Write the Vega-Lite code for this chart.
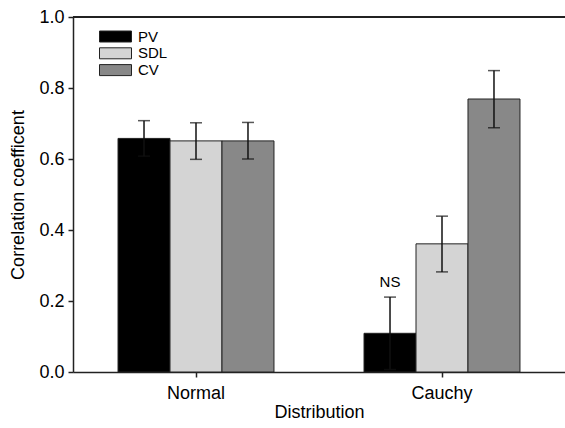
{
  "$schema": "https://vega.github.io/schema/vega-lite/v6.json",
  "width": 492,
  "height": 355,
  "autosize": "none",
  "padding": {"left": 73, "top": 17, "right": 0, "bottom": 56},
  "config": {
    "font": "Liberation Sans",
    "view": {"stroke": null},
    "axis": {
      "domainColor": "#222",
      "domainWidth": 1.5,
      "tickColor": "#222",
      "tickWidth": 1.5,
      "tickSize": 5,
      "labelFontSize": 18,
      "titleFontSize": 18,
      "titleFontWeight": "normal",
      "labelColor": "black",
      "titleColor": "black",
      "grid": false
    },
    "legend": {
      "labelFontSize": 15,
      "labelColor": "black",
      "symbolType": "M-1,-1.1H5.4V1.1H-1Z",
      "symbolSize": 100,
      "symbolStrokeColor": "#222",
      "symbolStrokeWidth": 1,
      "symbolOpacity": 1,
      "rowPadding": 0.8,
      "labelOffset": 26,
      "padding": 0
    }
  },
  "data": {
    "values": [
      {"dist": "Normal", "method": "PV", "value": 0.658, "lo": 0.608, "hi": 0.708, "note": ""},
      {"dist": "Normal", "method": "SDL", "value": 0.651, "lo": 0.599, "hi": 0.702, "note": ""},
      {"dist": "Normal", "method": "CV", "value": 0.651, "lo": 0.600, "hi": 0.703, "note": ""},
      {"dist": "Cauchy", "method": "PV", "value": 0.109, "lo": 0.007, "hi": 0.211, "note": "NS"},
      {"dist": "Cauchy", "method": "SDL", "value": 0.361, "lo": 0.282, "hi": 0.439, "note": ""},
      {"dist": "Cauchy", "method": "CV", "value": 0.769, "lo": 0.688, "hi": 0.849, "note": ""}
    ]
  },
  "layer": [
    {
      "mark": {"type": "bar", "stroke": "#222", "strokeWidth": 1},
      "encoding": {
        "x": {"field": "dist", "type": "nominal", "sort": ["Normal", "Cauchy"], "title": "Distribution",
              "scale": {"paddingInner": 0.366, "paddingOuter": 0.183},
              "axis": {"labelAngle": 0, "labelPadding": 7, "titlePadding": 1}},
        "xOffset": {"field": "method", "type": "nominal", "sort": ["PV", "SDL", "CV"], "scale": {"paddingInner": 0, "paddingOuter": 0}},
        "y": {"field": "value", "type": "quantitative", "title": "Correlation coefficent",
              "scale": {"domain": [0, 1], "nice": false},
              "axis": {"values": [0, 0.2, 0.4, 0.6, 0.8, 1.0], "format": ".1f", "labelPadding": 4, "titlePadding": 11}},
        "fill": {"field": "method", "type": "nominal", "sort": ["PV", "SDL", "CV"],
                 "scale": {"domain": ["PV", "SDL", "CV"], "range": ["#000000", "#d4d4d4", "#888888"]},
                 "legend": {"title": null, "orient": "none", "legendX": 24, "legendY": 12}}
      }
    },
    {
      "mark": {"type": "rule", "color": "#111", "strokeWidth": 1.5},
      "encoding": {
        "x": {"field": "dist", "type": "nominal", "sort": ["Normal", "Cauchy"], "title": "Distribution"},
        "xOffset": {"field": "method", "type": "nominal", "sort": ["PV", "SDL", "CV"]},
        "y": {"field": "lo", "type": "quantitative", "title": "Correlation coefficent"},
        "y2": {"field": "hi"}
      }
    },
    {
      "mark": {"type": "tick", "color": "#111", "thickness": 1.5, "size": 12},
      "encoding": {
        "x": {"field": "dist", "type": "nominal", "sort": ["Normal", "Cauchy"], "title": "Distribution"},
        "xOffset": {"field": "method", "type": "nominal", "sort": ["PV", "SDL", "CV"]},
        "y": {"field": "hi", "type": "quantitative", "title": "Correlation coefficent"}
      }
    },
    {
      "mark": {"type": "tick", "color": "#111", "thickness": 1.5, "size": 12},
      "encoding": {
        "x": {"field": "dist", "type": "nominal", "sort": ["Normal", "Cauchy"], "title": "Distribution"},
        "xOffset": {"field": "method", "type": "nominal", "sort": ["PV", "SDL", "CV"]},
        "y": {"field": "lo", "type": "quantitative", "title": "Correlation coefficent"}
      }
    },
    {
      "transform": [{"filter": "datum.note != ''"}],
      "mark": {"type": "text", "fontSize": 15, "color": "black", "baseline": "alphabetic", "dy": -10},
      "encoding": {
        "x": {"field": "dist", "type": "nominal", "sort": ["Normal", "Cauchy"], "title": "Distribution"},
        "xOffset": {"field": "method", "type": "nominal", "sort": ["PV", "SDL", "CV"]},
        "y": {"field": "hi", "type": "quantitative", "title": "Correlation coefficent"},
        "text": {"field": "note"}
      }
    },
    {
      "mark": {"type": "rule", "color": "#222", "strokeWidth": 1.5},
      "encoding": {"y": {"datum": 1}}
    }
  ]
}
